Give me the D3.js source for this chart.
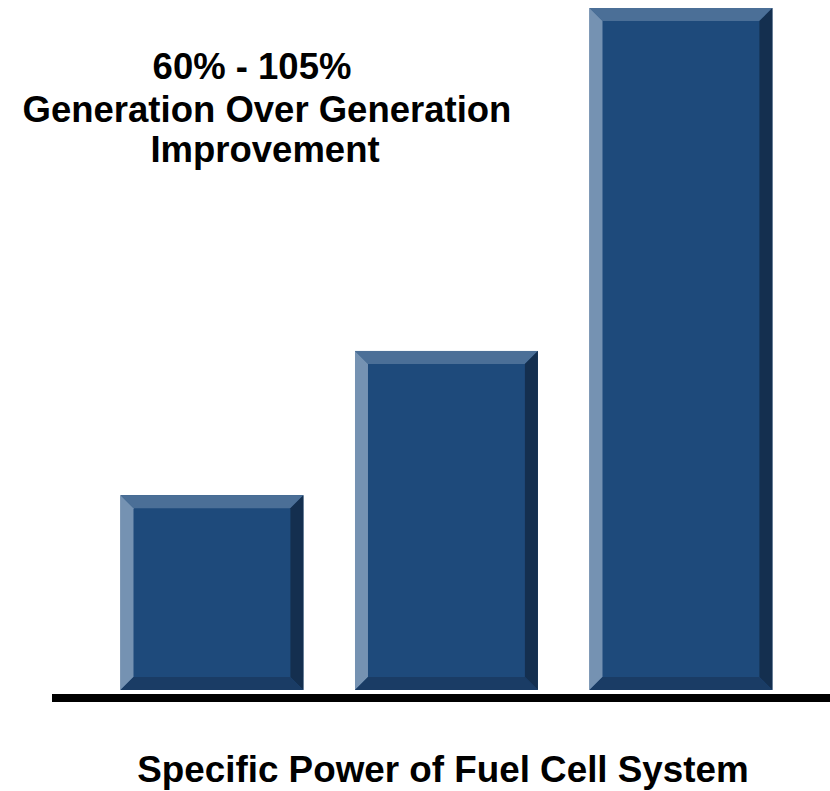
<!DOCTYPE html>
<html>
<head>
<meta charset="utf-8">
<script src="https://cdn.jsdelivr.net/npm/d3@7"></script>
<style>
  html, body { margin: 0; padding: 0; background: #fff; }
  svg { display: block; }
  text { font-family: "Liberation Sans", Arial, sans-serif; font-weight: bold; fill: #000; }
</style>
</head>
<body>
<svg id="chart" width="830" height="791"></svg>
<script>
const categories = ["Generation 1", "Generation 2", "Generation 3"];
const values = [1.0, 1.74, 3.5];
const titleLines = ["60% - 105%", "Generation Over Generation", "Improvement"];
const axisTitle = "Specific Power of Fuel Cell System";

const svg = d3.select("#chart");
const W = 830, H = 791;

const x = d3.scaleBand().domain(categories).range([94.7, 798.2]).paddingInner(0.22).paddingOuter(0.11);
const y = d3.scaleLinear().domain([0, 3.5]).range([690, 8]);

const colors = { face: "#1e4a7b", top: "#4b6f97", left: "#7592b2", right: "#142f4f", bottom: "#1a3c65" };
const b = 13;

const g = svg.append("g");
categories.forEach((c, i) => {
  const x0 = x(c), x1 = x(c) + x.bandwidth();
  const y0 = y(values[i]), y1 = y(0);
  const bar = g.append("g");
  bar.append("rect").attr("x", x0).attr("y", y0).attr("width", x1 - x0).attr("height", y1 - y0).attr("fill", colors.face);
  const poly = (pts, fill) => bar.append("polygon").attr("points", pts.map(p => p.join(",")).join(" ")).attr("fill", fill);
  poly([[x0, y0], [x1, y0], [x1 - b, y0 + b], [x0 + b, y0 + b]], colors.top);
  poly([[x0, y0], [x0 + b, y0 + b], [x0 + b, y1 - b], [x0, y1]], colors.left);
  poly([[x1, y0], [x1, y1], [x1 - b, y1 - b], [x1 - b, y0 + b]], colors.right);
  poly([[x0, y1], [x0 + b, y1 - b], [x1 - b, y1 - b], [x1, y1]], colors.bottom);
});

// baseline
svg.append("rect").attr("x", 52).attr("y", 694).attr("width", W - 52).attr("height", 8).attr("fill", "#000");

// title
const titleX = [252, 267, 265];
const titleY = [79, 121.5, 161.5];
titleLines.forEach((t, i) => {
  svg.append("text").attr("x", titleX[i]).attr("y", titleY[i]).attr("text-anchor", "middle")
    .attr("font-size", 36.5).text(t);
});

svg.append("text").attr("x", 443).attr("y", 782).attr("text-anchor", "middle")
  .attr("font-size", 36.8).text(axisTitle);
</script>
</body>
</html>
